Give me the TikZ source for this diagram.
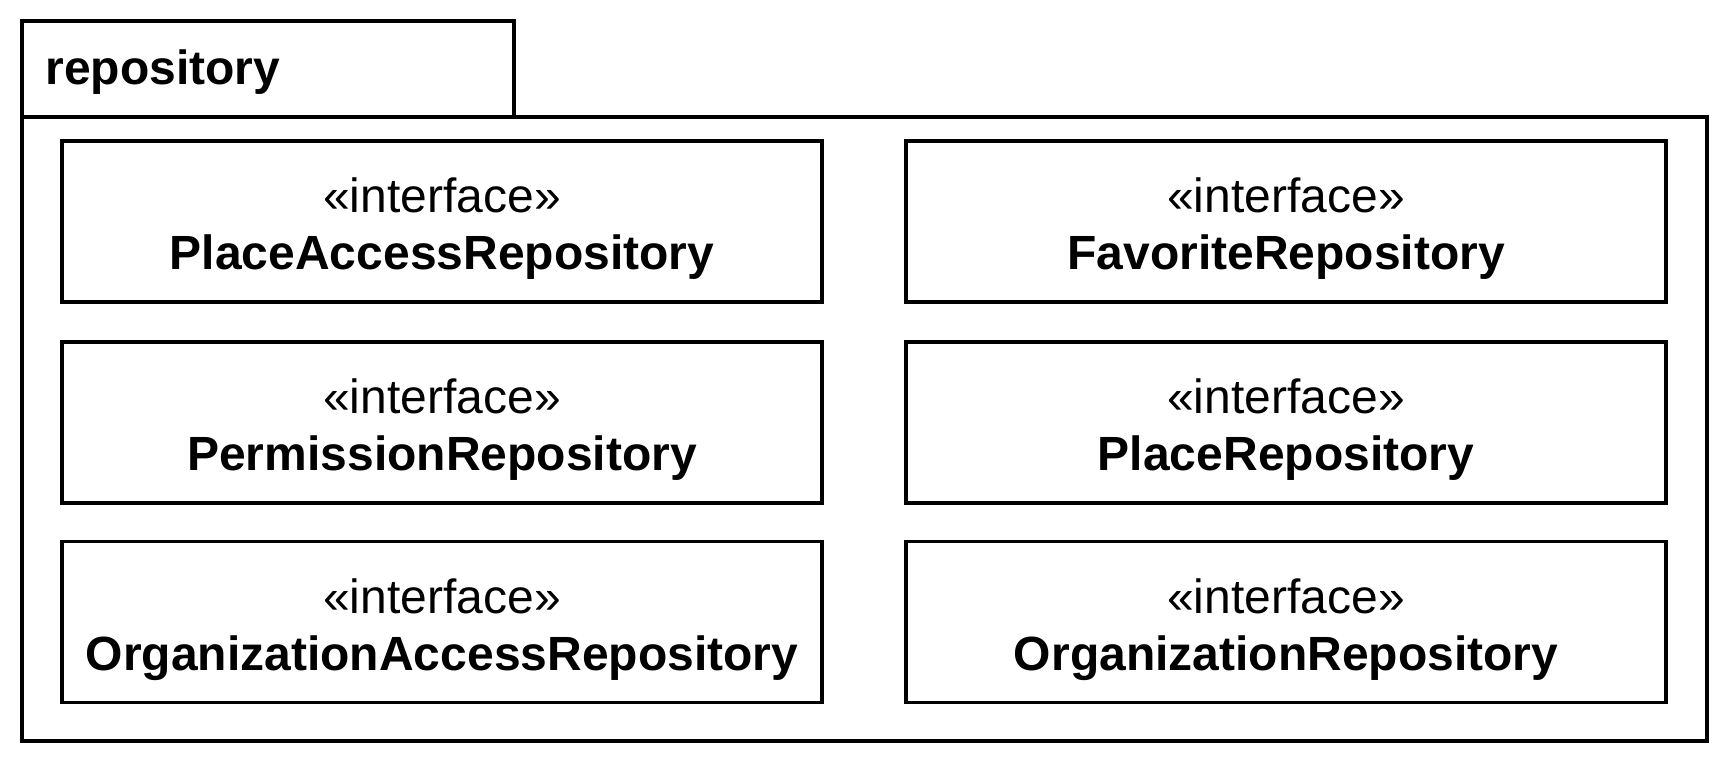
\documentclass[tikz,border=0pt]{standalone}
\usepackage{fontspec}
\setmainfont{Liberation Sans}
\begin{document}
\begin{tikzpicture}[x=0.5pt,y=-0.5pt,
  frame/.style={draw=black,line width=1.9pt,fill=white,inner sep=0pt,outer sep=0pt},
  ibox/.style={frame,minimum width=380pt,minimum height=80.5pt},
  itext/.style={align=center,inner sep=0pt,font=\fontsize{24}{28.5}\selectfont,yshift=-3.75pt},
  tabtext/.style={inner sep=0pt,anchor=base west,font=\fontsize{24}{28.5}\selectfont\bfseries}]
\useasboundingbox (0,0) rectangle (1732,764);
\node[frame,anchor=north west,minimum width=246pt,minimum height=48pt] (tab) at (22,21) {};
\node[frame,anchor=north west,minimum width=842.5pt,minimum height=312pt] (body) at (22,117) {};
\node[tabtext] (title) at (45,85) {repository};
\node[ibox] (b1) at (442,221.5) {};
\node[ibox] (b2) at (1286,221.5) {};
\node[ibox] (b3) at (442,422.5) {};
\node[ibox] (b4) at (1286,422.5) {};
\node[ibox] (b5) at (442,622) {};
\node[ibox] (b6) at (1286,622) {};
\node[itext] (t1) at (b1.center) {«interface»\\\textbf{PlaceAccessRepository}};
\node[itext] (t2) at (b2.center) {«interface»\\\textbf{FavoriteRepository}};
\node[itext] (t3) at (b3.center) {«interface»\\\textbf{PermissionRepository}};
\node[itext] (t4) at (b4.center) {«interface»\\\textbf{PlaceRepository}};
\node[itext] (t5) at (b5.center) {«interface»\\\textbf{OrganizationAccessRepository}};
\node[itext] (t6) at (b6.center) {«interface»\\\textbf{OrganizationRepository}};
\end{tikzpicture}
\end{document}
